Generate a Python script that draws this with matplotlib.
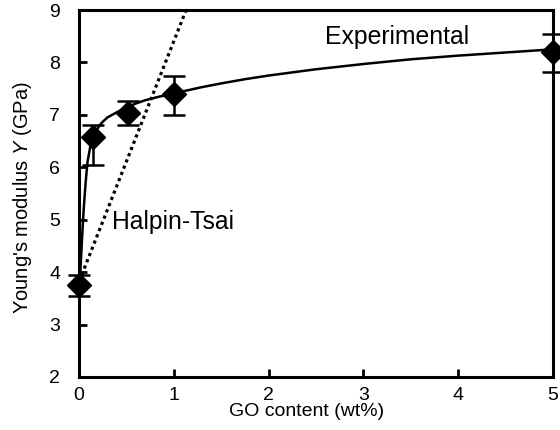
import matplotlib
matplotlib.use("Agg")
import matplotlib.pyplot as plt

plt.rcParams['font.family'] = ['Liberation Sans', 'DejaVu Sans']
plt.rcParams['mathtext.fontset'] = 'custom'
plt.rcParams['mathtext.it'] = 'Liberation Sans:italic'
plt.rcParams['mathtext.rm'] = 'Liberation Sans'

# Experimental data
go_content = [0.0, 0.15, 0.52, 1.0, 5.0]
modulus = [3.75, 6.57, 7.04, 7.39, 8.19]
err_low = [0.21, 0.53, 0.24, 0.39, 0.37]
err_high = [0.2, 0.23, 0.22, 0.36, 0.35]

# Fitted experimental curve
fit_x = [0.01, 0.02, 0.03, 0.04, 0.05, 0.07, 0.09, 0.12, 0.16, 0.2, 0.24, 0.3, 0.4, 0.5, 0.59, 0.7, 0.83,
         1.0, 1.15, 1.3, 1.5, 1.75, 2.0, 2.5, 3.0, 3.5, 4.0, 4.5, 5.0]
fit_y = [3.8, 4.2, 4.55, 4.9, 5.2, 5.7, 6.1, 6.4, 6.62, 6.75, 6.85, 6.95, 7.05, 7.14, 7.21, 7.28, 7.34,
         7.41, 7.47, 7.53, 7.6, 7.68, 7.75, 7.87, 7.97, 8.06, 8.13, 8.19, 8.25]

# Halpin-Tsai prediction
ht_x = [0.03, 1.13]
ht_y = [3.95, 9.0]

xticks = [0, 1, 2, 3, 4, 5]
yticks = [2, 3, 4, 5, 6, 7, 8, 9]

fig = plt.figure(figsize=(5.6, 4.3), dpi=100)
ax = fig.add_axes([0.141, 0.1233, 0.8465, 0.8534])

ax.plot(ht_x, ht_y, color='black', lw=2.3, linestyle=(0, (1, 1.1)), clip_on=True, zorder=2)
ax.plot(fit_x, fit_y, color='black', lw=1.8, zorder=3)
ax.errorbar(go_content, modulus, yerr=[err_low, err_high], fmt='D', color='black',
            ms=12, elinewidth=1.8, capsize=8, capthick=1.8, clip_on=False, zorder=4)

ax.set_xlim(0, 5)
ax.set_ylim(2, 9)
ax.set_xticks(xticks)
ax.set_yticks(yticks)
ax.tick_params(direction='in', length=6, width=2.0, labelsize=14)
ax.tick_params(axis='y', pad=13.5)
ax.tick_params(axis='x', pad=7)
for s in ax.spines.values():
    s.set_linewidth(2.2)

ax.set_xlabel('GO content (wt%)', fontsize=14)
ax.set_ylabel(r"Young's modulus $\mathit{Y}$ (GPa)", fontsize=14.5)
ax.xaxis.set_label_coords(0.48, -0.071)
ax.yaxis.set_label_coords(-0.095, 0.49)

ax.text(3.35, 8.48, 'Experimental', fontsize=17.8, ha='center', va='center')
ax.text(0.35, 4.96, 'Halpin-Tsai', fontsize=17.8, ha='left', va='center')

fig.savefig('out.png', dpi=100)
